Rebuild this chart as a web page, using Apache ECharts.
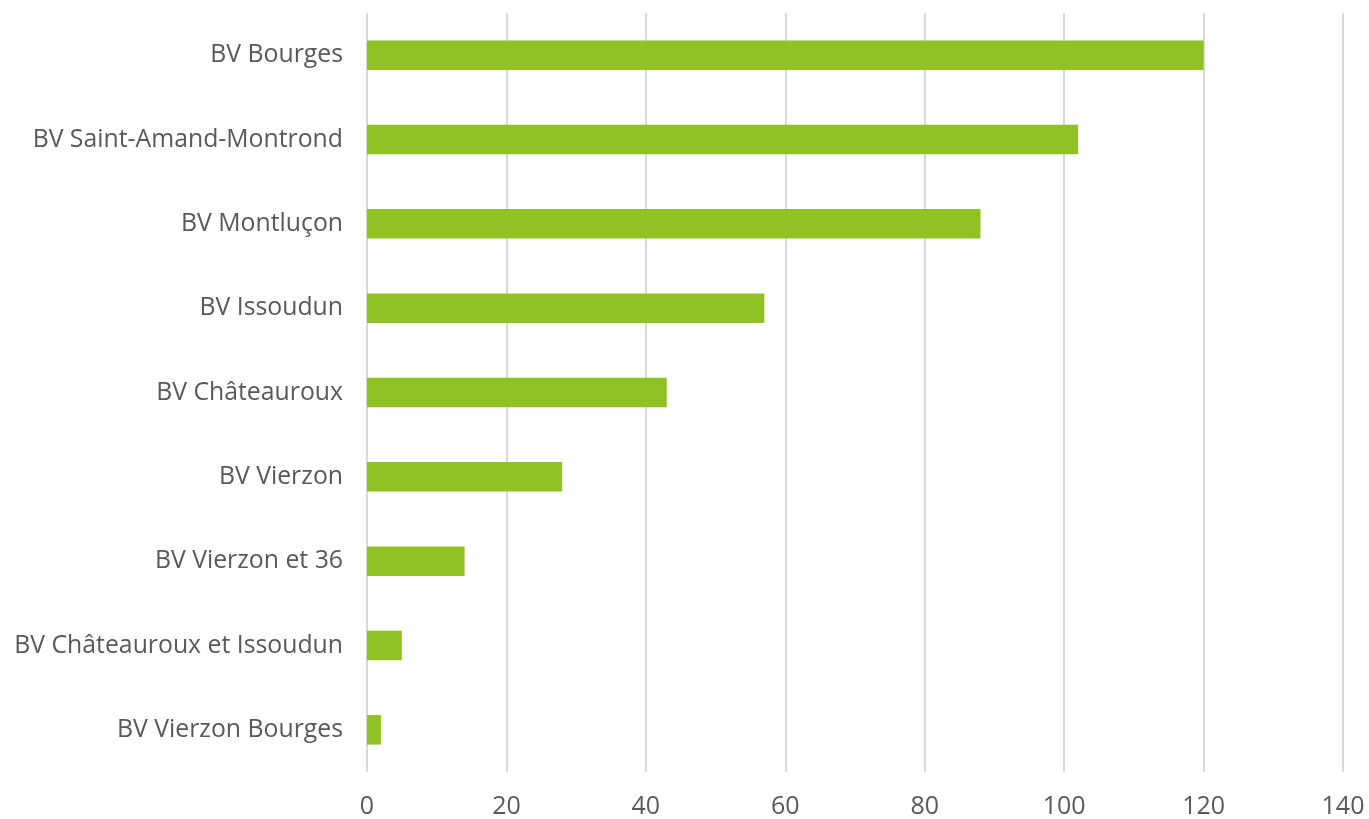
<!DOCTYPE html>
<html>
<head>
<meta charset="utf-8">
<script src="https://cdn.jsdelivr.net/npm/echarts@6/dist/echarts.min.js"></script>
<style>html,body{margin:0;padding:0;background:#fff;}#c{width:1369px;height:819px;}</style>
</head>
<body>
<div id="c"></div>
<script>
const categories = ["BV Bourges","BV Saint-Amand-Montrond","BV Montluçon","BV Issoudun","BV Châteauroux","BV Vierzon","BV Vierzon et 36","BV Châteauroux et Issoudun","BV Vierzon Bourges"];
const values = [120,102,88,57,43,28,14,5,2];
const xTicks = [0,20,40,60,80,100,120,140];

const chart = echarts.init(document.getElementById('c'));
chart.setOption({
  animation:false,
  grid:{left:367,right:26,top:13,bottom:47,containLabel:false},
  xAxis:{type:'value',min:0,max:140,interval:20,
    axisLine:{show:false},axisTick:{show:false},
    splitLine:{show:true,lineStyle:{color:'#d9d9d9',width:2}},
    axisLabel:{color:'#595959',fontSize:25,fontFamily:'Open Sans',margin:22,
      formatter:v=>xTicks.includes(v)?String(v):''}},
  yAxis:{type:'category',data:categories,inverse:true,
    axisLine:{show:false},axisTick:{show:false},
    axisLabel:{color:'#595959',fontSize:24.8,fontFamily:'Open Sans',margin:24,padding:[5,0,0,0]}},
  series:[{type:'bar',data:values,barWidth:'35%',itemStyle:{color:'#90c226'}}]
});
</script>
</body>
</html>
